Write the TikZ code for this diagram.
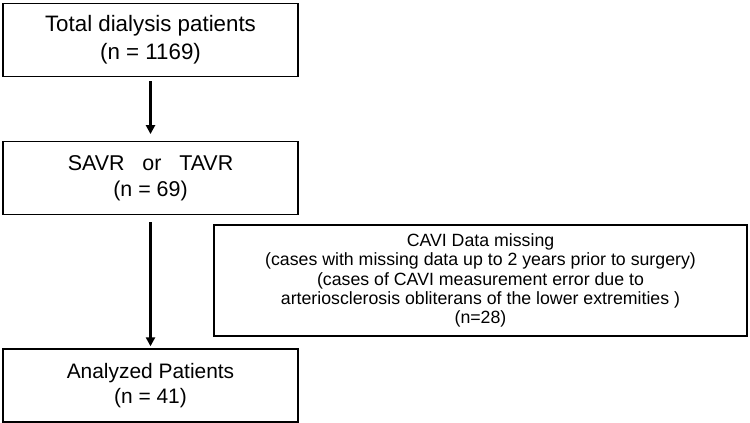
\documentclass[tikz,border=0pt]{standalone}
\usepackage{fontspec}
\setmainfont{Liberation Sans}
\usetikzlibrary{arrows.meta, positioning}

\begin{document}
\begin{tikzpicture}[
    x=1bp, y=1bp,
    box/.style={draw, line width=1.2bp, minimum width=295bp, minimum height=73bp, inner sep=0pt, align=center},
    note/.style={draw, line width=1.2bp, minimum width=533bp, minimum height=111bp, inner sep=0pt, align=center, font=\fontsize{17.8}{19.3}\selectfont},
    arr/.style={-{Triangle[length=9bp, width=9bp]}, line width=2.6bp},
  ]
    \useasboundingbox (0,0) rectangle (750,422);
    \node[box, font=\fontsize{22.4}{28.5}\selectfont] (total) at (150.5,382) {Total dialysis patients\\(n = 1169)};
    \node[box, font=\fontsize{21.5}{26}\selectfont, below=64bp of total] (surg) {SAVR~~ or~~ TAVR\\(n = 69)};
    \node[box, font=\fontsize{21}{25}\selectfont, below=133bp of surg] (analyzed) {Analyzed Patients\\(n = 41)};
    \node[note] (missing) at (480.5,141.5) {CAVI Data missing\\(cases with missing data up to 2 years prior to surgery)\\(cases of CAVI measurement error due to\\arteriosclerosis obliterans of the lower extremities )\\(n=28)};

    \draw[arr, shorten <=4bp, shorten >=7bp] (total) -- (surg);
    \draw[arr, shorten <=7bp, shorten >=2bp] (surg) -- (analyzed);
  \end{tikzpicture}
\end{document}
